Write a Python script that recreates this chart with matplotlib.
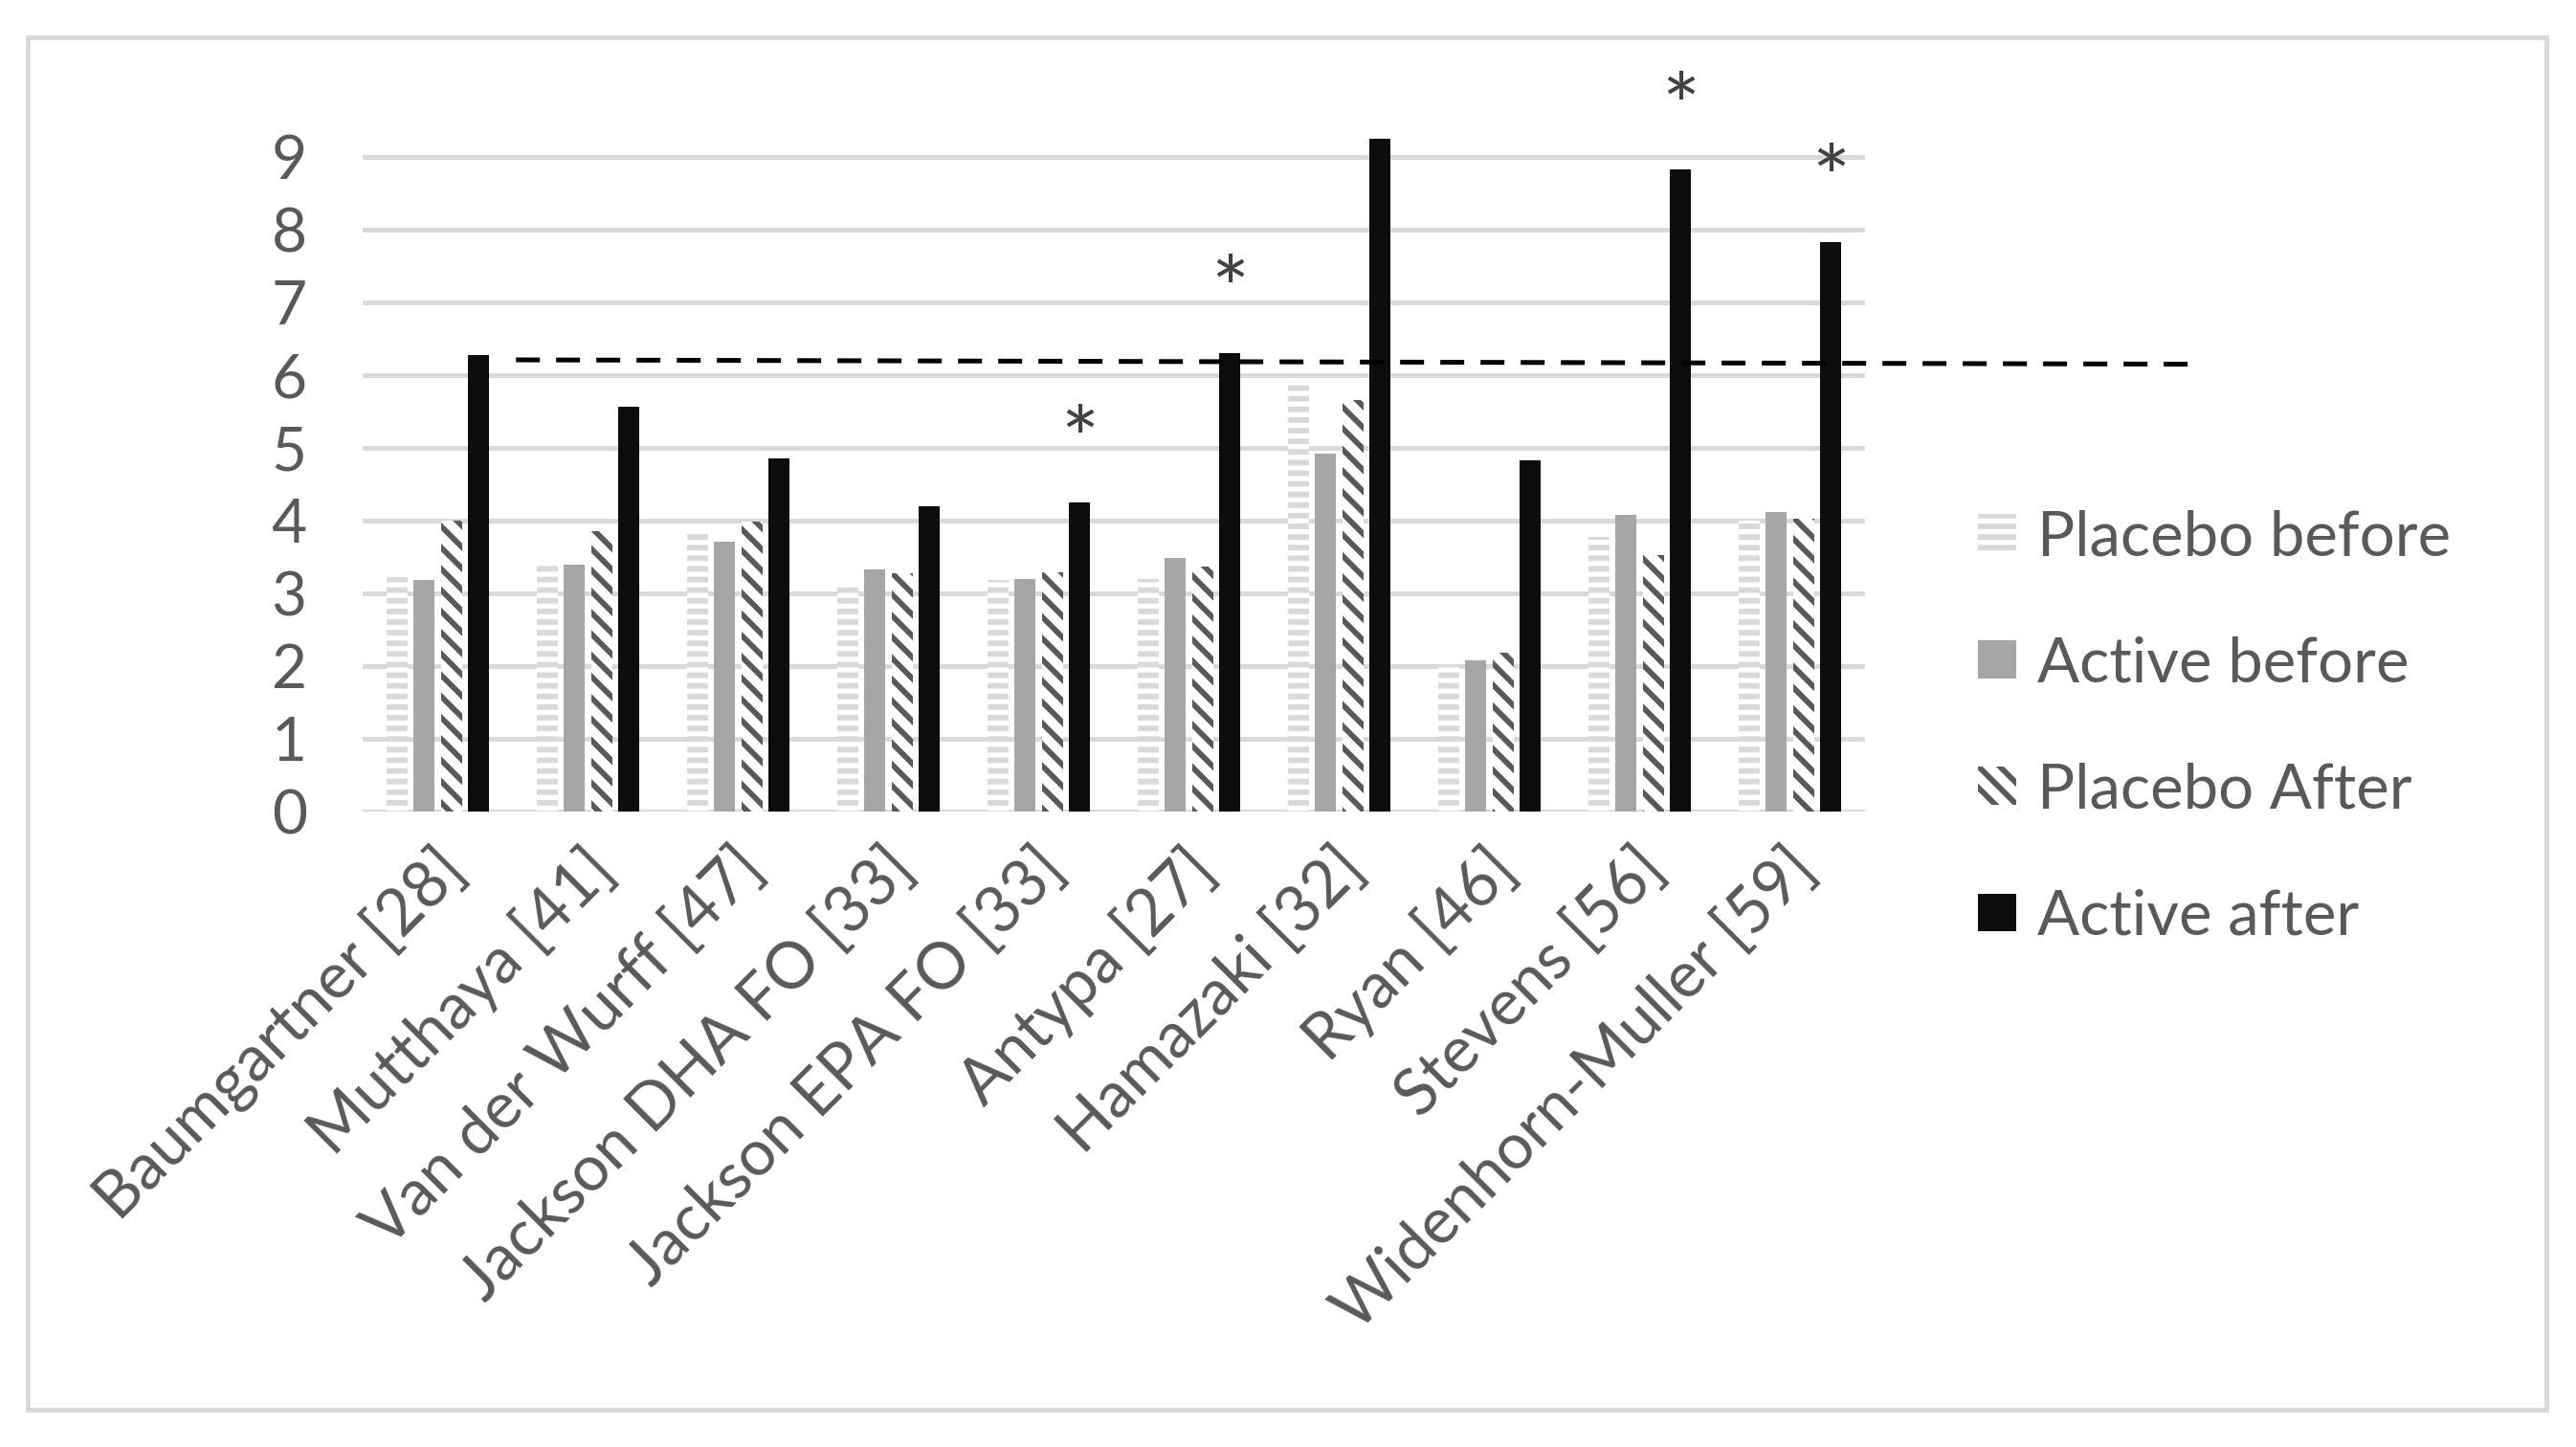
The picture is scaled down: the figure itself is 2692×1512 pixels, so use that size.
import matplotlib.pyplot as plt
import numpy as np
from matplotlib.patches import Rectangle

plt.rcParams['font.family'] = ['Lato', 'DejaVu Sans']
plt.rcParams['hatch.linewidth'] = 2.1

studies = ['Baumgartner [28]', 'Mutthaya [41]', 'Van der Wurff [47]', 'Jackson DHA FO [33]',
           'Jackson EPA FO [33]', 'Antypa [27]', 'Hamazaki [32]', 'Ryan [46]', 'Stevens [56]',
           'Widenhorn-Muller [59]']
placebo_before = [3.22, 3.39, 3.82, 3.12, 3.19, 3.20, 5.90, 2.01, 3.77, 4.00]
active_before = [3.19, 3.40, 3.71, 3.33, 3.20, 3.48, 4.92, 2.08, 4.08, 4.12]
placebo_after = [4.00, 3.85, 3.98, 3.28, 3.29, 3.37, 5.66, 2.18, 3.53, 4.03]
active_after = [6.28, 5.56, 4.85, 4.20, 4.25, 6.30, 9.25, 4.83, 8.83, 7.83]

# significant groups (asterisk over the active-after bar)
star_groups = [4, 5, 8, 9]
star_levels = [5.40, 7.47, 9.99, 9.00]

# dashed reference line (drawn across the chart, slightly sloped)
ref_x = [0.52, 11.75]
ref_y = [6.21, 6.15]

grey_txt = '#595959'
grid_c = '#d9d9d9'

fig = plt.figure(figsize=(13.46, 7.56), dpi=200)
ax = fig.add_axes([0.1408, 0.4392, 0.5832, 0.5026])

x = np.arange(len(studies))
w = 0.14
ax.bar(x - 0.27, placebo_before, w, facecolor='white', edgecolor=grid_c, linewidth=0,
       hatch='---', label='Placebo before')
ax.bar(x - 0.09, active_before, w, color='#a6a6a6', label='Active before')
ax.bar(x + 0.09, placebo_after, w, facecolor='white', edgecolor='#595959', linewidth=0,
       hatch='\\\\\\', label='Placebo After')
ax.bar(x + 0.27, active_after, w, color='#0d0d0d', label='Active after', clip_on=False)

ax.plot(ref_x, ref_y, color='black', lw=1.8, dashes=(5.0, 3.4), clip_on=False, zorder=5)

for g, lv in zip(star_groups, star_levels):
    ax.text(g + 0.27, lv - 0.38, '*', ha='center', va='center', fontsize=34,
            color='#404040', clip_on=False)

ax.set_xlim(-0.5, len(studies) - 0.5)
ax.set_ylim(0, 10)
ax.set_yticks(range(10))
ax.yaxis.grid(True, color=grid_c, lw=1.8)
ax.set_axisbelow(True)
for s in ax.spines.values():
    s.set_visible(False)
ax.axhline(0, color=grid_c, lw=1.8, zorder=0.5)
ax.tick_params(axis='y', length=0, pad=21, labelsize=23, labelcolor=grey_txt)
ax.set_xticks([])

for i, name in enumerate(studies):
    ax.annotate(name, xy=(i, 0), xytext=(-2, -10), textcoords='offset points',
                rotation=45, rotation_mode='anchor', ha='right', va='top',
                fontsize=24, color=grey_txt, annotation_clip=False)

fig.legend(loc='upper left', bbox_to_anchor=(0.7677, 0.648), frameon=False,
           borderaxespad=0, borderpad=0, fontsize=23.5, labelcolor=grey_txt,
           handlelength=0.62, handleheight=0.56, handletextpad=0.33, labelspacing=1.12)

fig.patches.append(Rectangle((0.0108, 0.0258), 0.9777, 0.9484, transform=fig.transFigure,
                             fill=False, edgecolor=grid_c, lw=1.8))

fig.savefig('out.png', dpi=200)
